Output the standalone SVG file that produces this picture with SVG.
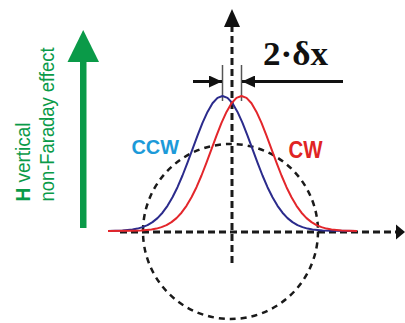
<svg xmlns="http://www.w3.org/2000/svg" width="405" height="323" viewBox="0 0 405 323">
<style>
.ax{fill:none;stroke:#1a1a1a;stroke-width:3;stroke-dasharray:7 4}
.circ{fill:none;stroke:#1a1a1a;stroke-width:2.5;stroke-dasharray:6 5}
.curve{fill:none;stroke-width:2;stroke-linejoin:round}
.tick{stroke:#555;stroke-width:1.5}
.dim{stroke:#111;stroke-width:3}
.lbl{font-family:"Liberation Sans",Arial,sans-serif;font-weight:bold}
.side{font-family:"Liberation Sans",Arial,sans-serif;font-size:19.5px;fill:#0a9a48}
</style>
<defs>
<marker id="ah2" viewBox="0 0 13 12" refX="13" refY="6" markerWidth="13" markerHeight="12" markerUnits="userSpaceOnUse" orient="auto">
<path d="M0,0 L13,6 L0,12 Z" fill="#111"/>
</marker>
</defs>
<g id="connectors">
<line class="ax" x1="120" y1="232" x2="397" y2="232"/>
<path d="M396,224.5 L405,232 L396,239.5 Z" fill="#111"/>
<line class="ax" x1="232" y1="263" x2="232" y2="26"/>
<path d="M224,27 L232,9 L240,27 Z" fill="#111"/>
<circle class="circ" cx="230.5" cy="231.5" r="87.5"/>
<line class="tick" x1="222.5" y1="65" x2="222.5" y2="101"/>
<line class="tick" x1="241.5" y1="65" x2="241.5" y2="101"/>
<line class="dim" x1="193" y1="81.5" x2="222" y2="81.5" marker-end="url(#ah2)"/>
<line class="dim" x1="343" y1="81.5" x2="242" y2="81.5" marker-end="url(#ah2)"/>
</g>
<g id="ccw-curve" transform="translate(222.5,0)">
<polyline class="curve" stroke="#2b2b8c" points="-114.5,230.9 -100,230.5 -90,229.5 -85,228.6 -80,227.1 -75,225.1 -70,222.1 -65,218.1 -60,212.7 -55,205.8 -50,197.3 -45,187.2 -40,175.5 -35,162.6 -30,149.1 -25,135.6 -20,122.9 -15,111.9 -10,103.3 -5,97.9 0,96 5,97.9 10,103.3 15,111.9 20,122.9 25,135.6 30,149.1 35,162.6 40,175.5 45,187.2 50,197.3 55,205.8 60,212.7 65,218.1 70,222.1 75,225.1 80,227.1 85,228.6 90,229.5 100,230.5 110,230.8 134.5,231"/>
</g>
<g id="cw-curve" transform="translate(241.5,0)">
<polyline class="curve" stroke="#e3262b" points="-133.5,231 -110,230.8 -100,230.5 -90,229.5 -85,228.6 -80,227.1 -75,225.1 -70,222.1 -65,218.1 -60,212.7 -55,205.8 -50,197.3 -45,187.2 -40,175.5 -35,162.6 -30,149.1 -25,135.6 -20,122.9 -15,111.9 -10,103.3 -5,97.9 0,96 5,97.9 10,103.3 15,111.9 20,122.9 25,135.6 30,149.1 35,162.6 40,175.5 45,187.2 50,197.3 55,205.8 60,212.7 65,218.1 70,222.1 75,225.1 80,227.1 85,228.6 90,229.5 100,230.5 115.5,230.9"/>
</g>
<g id="label-dx">
<text x="263" y="65" font-family="'Liberation Serif','Times New Roman',serif" font-weight="bold" font-size="33" fill="#111" textLength="65" lengthAdjust="spacingAndGlyphs">2·δx</text>
</g>
<g id="label-ccw">
<text class="lbl" x="131.5" y="153.5" font-size="21" fill="#1c9ad9" textLength="47.5" lengthAdjust="spacingAndGlyphs">CCW</text>
</g>
<g id="label-cw">
<text class="lbl" x="288.5" y="158.3" font-size="23" fill="#e02424" textLength="34" lengthAdjust="spacingAndGlyphs">CW</text>
</g>
<g id="h-arrow">
<rect x="80" y="58" width="6.5" height="170" fill="#0a9a48"/>
<path d="M83.2,30 L99,62 L67.5,62 Z" fill="#0a9a48"/>
</g>
<g id="h-label">
<text class="side" transform="translate(29.5,201.5) rotate(-90)" textLength="79" lengthAdjust="spacingAndGlyphs"><tspan font-weight="bold">H</tspan> vertical</text>
<text class="side" transform="translate(54,201.5) rotate(-90)" textLength="154" lengthAdjust="spacingAndGlyphs">non-Faraday effect</text>
</g>
</svg>
